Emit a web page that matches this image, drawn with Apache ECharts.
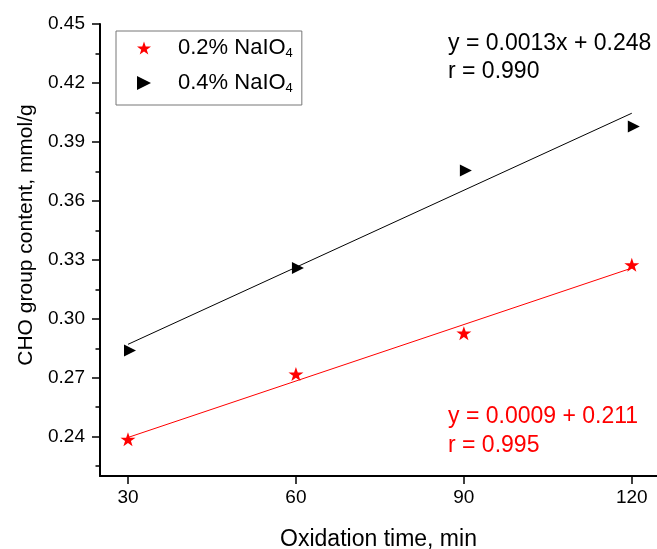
<!DOCTYPE html>
<html><head><meta charset="utf-8">
<script src="https://cdn.jsdelivr.net/npm/echarts@6/dist/echarts.min.js"></script>
<style>html,body{margin:0;padding:0;background:#fff}#c{width:657px;height:549px}</style>
</head><body><div id="c"></div>
<script>
// ---- data ----
const oxidationTimes = [30, 60, 90, 120];
const cho02 = [0.2387, 0.2719, 0.2927, 0.3275];
const cho04 = [0.2838, 0.3259, 0.3755, 0.3979];
const fitX = [30, 120];
const fit02 = [0.2396, 0.3258];
const fit04 = [0.2870, 0.4046];
const xTicks = [30, 60, 90, 120];
const yMajorTicks = [0.24, 0.27, 0.30, 0.33, 0.36, 0.39, 0.42, 0.45];
const yMinorTicks = [0.225, 0.255, 0.285, 0.315, 0.345, 0.375, 0.405, 0.435];
const seriesNames = ['0.2% NaIO4', '0.4% NaIO4'];
const eqTexts = ['y = 0.0013x + 0.248', 'r = 0.990', 'y = 0.0009 + 0.211', 'r = 0.995'];

const FF = "'Liberation Sans', Arial, Helvetica, sans-serif";
const starPath = 'path://M50,0 L61.8,35.1 L98.1,35.1 L68.8,56.8 L79.4,91 L50,70 L20.6,91 L31.2,56.8 L1.9,35.1 L38.2,35.1 Z';
const triPath = 'path://M0,0 L10,5 L0,10 Z';

const chart = echarts.init(document.getElementById('c'));
const pts = (xs, ys) => xs.map((x, i) => [x, ys[i]]);

chart.setOption({
  animation: false,
  backgroundColor: '#fff',
  grid: { left: 100, right: 0, top: 24, bottom: 73, outerBoundsMode: 'none', containLabel: false },
  xAxis: {
    type: 'value', min: 25, max: 124.5,
    axisLine: { lineStyle: { color: '#000', width: 2 } },
    axisTick: { customValues: xTicks, length: 8, lineStyle: { color: '#000', width: 1.5 } },
    axisLabel: { customValues: xTicks, fontSize: 19, color: '#000', margin: 12, fontFamily: FF },
    splitLine: { show: false },
    name: 'Oxidation time, min', nameLocation: 'middle', nameGap: 52,
    nameTextStyle: { fontSize: 23, color: '#000', fontFamily: FF }
  },
  yAxis: [{
    type: 'value', min: 0.22, max: 0.45, position: 'left',
    axisLine: { show: true, lineStyle: { color: '#000', width: 2 } },
    axisTick: { show: true, customValues: yMajorTicks, length: 8, lineStyle: { color: '#000', width: 1.5 } },
    axisLabel: { customValues: yMajorTicks, fontSize: 19, color: '#000', margin: 15, fontFamily: FF,
      formatter: v => v.toFixed(2) },
    splitLine: { show: false },
    name: 'CHO group content, mmol/g', nameLocation: 'middle', nameGap: 62,
    nameTextStyle: { fontSize: 21, color: '#000', fontFamily: FF, padding: [0, 0, 0, 30] }
  }, {
    type: 'value', min: 0.22, max: 0.45, position: 'left', offset: 0,
    axisLine: { show: false },
    axisTick: { show: true, customValues: yMinorTicks, length: 4.5, lineStyle: { color: '#000', width: 1.5 } },
    axisLabel: { show: false },
    splitLine: { show: false }
  }],
  legend: {
    data: seriesNames,
    orient: 'vertical', left: 116, top: 31,
    padding: [5, 9, 10, 21],
    itemWidth: 14, itemHeight: 14, itemGap: 11,
    borderColor: '#777', borderWidth: 1, backgroundColor: '#fff',
    formatter: n => n.replace('NaIO4', 'NaIO{sub|4}'),
    textStyle: {
      fontSize: 22, color: '#000', fontFamily: FF, lineHeight: 24, padding: [0, 0, 0, 22],
      rich: { sub: { fontSize: 13, color: '#000', fontFamily: FF, lineHeight: 5, verticalAlign: 'bottom' } }
    }
  },
  series: [
    { name: 'fit02', type: 'line', data: pts(fitX, fit02), symbol: 'none', silent: true,
      lineStyle: { color: '#ff0000', width: 1 }, z: 2 },
    { name: 'fit04', type: 'line', data: pts(fitX, fit04), symbol: 'none', silent: true,
      lineStyle: { color: '#000', width: 1 }, z: 2 },
    { name: seriesNames[0], type: 'scatter', data: pts(oxidationTimes, cho02), symbol: starPath,
      symbolSize: [15, 14], itemStyle: { color: '#ff0000', opacity: 1 }, z: 3 },
    { name: seriesNames[1], type: 'scatter', data: pts(oxidationTimes, cho04), symbol: triPath,
      symbolSize: [12, 12], symbolOffset: [2, 0], itemStyle: { color: '#000', opacity: 1 }, z: 3 }
  ],
  graphic: [
    { type: 'text', x: 448, y: 44, style: { text: eqTexts[0], fontSize: 23, fontFamily: FF, fill: '#000', textAlign: 'left', textVerticalAlign: 'middle' } },
    { type: 'text', x: 448, y: 72, style: { text: eqTexts[1], fontSize: 23, fontFamily: FF, fill: '#000', textAlign: 'left', textVerticalAlign: 'middle' } },
    { type: 'text', x: 448, y: 417, style: { text: eqTexts[2], fontSize: 23, fontFamily: FF, fill: '#ff0000', textAlign: 'left', textVerticalAlign: 'middle' } },
    { type: 'text', x: 448, y: 445.5, style: { text: eqTexts[3], fontSize: 23, fontFamily: FF, fill: '#ff0000', textAlign: 'left', textVerticalAlign: 'middle' } }
  ]
});
</script></body></html>
